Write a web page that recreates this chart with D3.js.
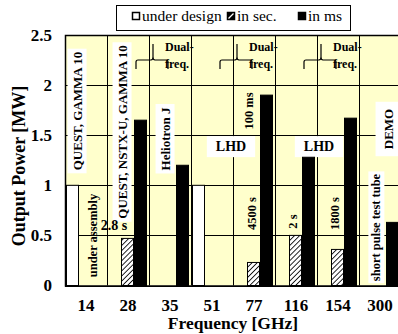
<!DOCTYPE html>
<html>
<head>
<meta charset="utf-8">
<script src="https://cdn.jsdelivr.net/npm/d3@7"></script>
<style>
  body { margin: 0; background: #fff; }
  svg text { font-family: "Liberation Serif", "Times New Roman", "DejaVu Serif", serif !important; }
</style>
</head>
<body>
<div id="chart"></div>
<script>
////////////////////////////////////////////////////////////
//////////////////////// Data //////////////////////////////
////////////////////////////////////////////////////////////

var frequencies = ["14", "28", "35", "51", "77", "116", "154", "300"];
var seriesKeys = ["design", "sec", "ms"];
var seriesNames = ["under design", "in sec.", "in ms"];
//Output power [MW] per frequency, null = no bar
var underDesign = [1.0, null, null, 1.0, null, null, null, null];
var inSec       = [null, 0.47, null, null, 0.23, 0.5, 0.36, null];
var inMs        = [null, 1.65, 1.2, null, 1.9, 1.28, 1.67, 0.63];
var yTicks = [0, 0.5, 1, 1.5, 2, 2.5];
//Frequencies that mark the dual-frequency braces (boundary on their left)
var dualFreqAt = ["35", "77", "154"];

////////////////////////////////////////////////////////////
/////////////////////// Set up /////////////////////////////
////////////////////////////////////////////////////////////

var width = 398, height = 334;
var margin = {left: 65, top: 35, bottom: 48};
var bandW = 42;
var serif = "'Liberation Serif', 'Times New Roman', 'DejaVu Serif', serif";

var svg = d3.select("#chart").append("svg")
    .attr("width", width)
    .attr("height", height)
    .attr("font-family", serif);

var defs = svg.append("defs");
var hatch = defs.append("pattern")
    .attr("id", "hatch")
    .attr("patternUnits", "userSpaceOnUse")
    .attr("width", 3.6).attr("height", 3.6)
    .attr("patternTransform", "rotate(45)");
hatch.append("rect").attr("width", 3.6).attr("height", 3.6).attr("fill", "#fff");
hatch.append("line").attr("x1", 0).attr("y1", 0).attr("x2", 0).attr("y2", 3.6)
    .attr("stroke", "#000").attr("stroke-width", 1.7);

var x = d3.scaleBand()
    .domain(frequencies)
    .range([margin.left, margin.left + bandW * frequencies.length])
    .padding(0);

var xSub = d3.scaleBand()
    .domain(seriesKeys)
    .range([1.5, 40.5]);

var y = d3.scaleLinear()
    .domain([0, 2.5])
    .range([height - margin.bottom - 0.5, margin.top]);

var fills = {design: "#fff", sec: "url(#hatch)", ms: "#000"};

//Plot background
svg.append("rect")
    .attr("x", x.range()[0]).attr("y", y(2.5))
    .attr("width", x.range()[1] - x.range()[0])
    .attr("height", y(0) - y(2.5))
    .attr("fill", "#ffffcc");

////////////////////////////////////////////////////////////
///////////////////////// Grid /////////////////////////////
////////////////////////////////////////////////////////////

var grid = svg.append("g");
grid.selectAll(".hgrid")
    .data(yTicks)
    .enter().append("line")
    .attr("x1", x.range()[0]).attr("x2", x.range()[1])
    .attr("y1", function(d) { return Math.round(y(d)) + 0.5; })
    .attr("y2", function(d) { return Math.round(y(d)) + 0.5; })
    .attr("stroke", "#000").attr("stroke-width", 1);

grid.selectAll(".vgrid")
    .data(frequencies)
    .enter().append("line")
    .attr("x1", function(d) { return x(d) + 0.5; })
    .attr("x2", function(d) { return x(d) + 0.5; })
    .attr("y1", y(2.5)).attr("y2", y(0))
    .attr("stroke", "#000").attr("stroke-width", 1);

////////////////////////////////////////////////////////////
////////////////////// Label boxes /////////////////////////
////////////////////////////////////////////////////////////

var labelLayer = svg.append("g");

//Draws a bold label, optionally rotated, with an optional white box behind it
function label(txt, cx, cy, opts) {
    var g = labelLayer.append("g")
        .attr("transform", "translate(" + cx + "," + cy + ")" + (opts.rotate ? " rotate(-90)" : ""));
    var t = g.append("text")
        .attr("text-anchor", "middle")
        .attr("dy", "0.35em")
        .style("font-family", serif)
        .style("font-weight", "bold")
        .style("font-size", (opts.size || 12) + "px")
        .text(txt);
    if (opts.box) {
        var b = t.node().getBBox();
        var pad = opts.pad || [3, 2];
        g.insert("rect", "text")
            .attr("x", b.x - pad[0]).attr("y", b.y - pad[1])
            .attr("width", b.width + 2 * pad[0]).attr("height", b.height + 2 * pad[1])
            .attr("fill", "#fff");
    }
    return g;
}

label("QUEST, GAMMA 10", x("14") + 12, y(2.5) + 76, {rotate: true, box: true, size: 13});
label("under assembly", x("14") + 28, y(0) - 50, {rotate: true, size: 12.5});
label("QUEST, NSTX-U, GAMMA 10", x("28") + 15, y(2.5) + 97, {rotate: true, box: true, size: 13});
label("2.8 s", x("28") + 7, y(0.5) - 10, {size: 14});
label("Heliotron J", x("35") + 16, y(2.5) + 104, {rotate: true, box: true, size: 13});
label("LHD", x("51") + 40, y(1.39), {box: true, size: 14, pad: [9, 3]});
label("100 ms", x("77") + 16, y(2.5) + 76, {rotate: true, size: 12.5});
label("4500 s", x("77") + 19, y(0) - 72, {rotate: true, size: 12.5});
label("LHD", x("116") + 44, y(1.39), {box: true, size: 14, pad: [9, 3]});
label("2 s", x("116") + 18, y(0) - 64, {rotate: true, size: 12.5});
label("1800 s", x("154") + 18, y(0) - 72, {rotate: true, size: 12.5});
label("DEMO", x("300") + 29, y(2.5) + 94, {rotate: true, box: true, size: 13, pad: [7, 5]});
label("short pulse test tube", x("300") + 17, y(0) - 58, {rotate: true, box: true, size: 12.5, pad: [2, 1]});

////////////////////////////////////////////////////////////
///////////////////////// Bars /////////////////////////////
////////////////////////////////////////////////////////////

var barData = [];
frequencies.forEach(function(f, i) {
    [underDesign, inSec, inMs].forEach(function(arr, j) {
        if (arr[i] !== null) barData.push({freq: f, key: seriesKeys[j], value: arr[i]});
    });
});

svg.append("g").selectAll("rect")
    .data(barData)
    .enter().append("rect")
    .attr("x", function(d) { return x(d.freq) + xSub(d.key); })
    .attr("y", function(d) { return y(d.value); })
    .attr("width", xSub.bandwidth() - 1)
    .attr("height", function(d) { return y(0) - y(d.value); })
    .attr("fill", function(d) { return fills[d.key]; })
    .attr("stroke", "#000")
    .attr("stroke-width", 1);

////////////////////////////////////////////////////////////
////////////////////// Dual-freq braces ////////////////////
////////////////////////////////////////////////////////////

var braces = svg.append("g").selectAll("g")
    .data(dualFreqAt)
    .enter().append("g")
    .attr("transform", function(d) { return "translate(" + (x(d) + 4) + ",0)"; });

braces.append("path")
    .attr("d", "M-17,69 L-17,62 Q-17,60 -15,60 L-2,60 Q0,60 0,57 L0,44 M0,57 Q0,60 2,60 L13,60 Q15,60 15,62 L15,69")
    .attr("fill", "none").attr("stroke", "#000").attr("stroke-width", 1.2);

braces.append("text")
    .attr("x", 12).attr("y", 51)
    .style("font-family", serif)
    .style("font-weight", "bold").style("font-size", "12px")
    .text("Dual-");
braces.append("text")
    .attr("x", 12).attr("y", 68)
    .style("font-family", serif)
    .style("font-weight", "bold").style("font-size", "12px")
    .text("freq.");

////////////////////////////////////////////////////////////
///////////////////////// Axes /////////////////////////////
////////////////////////////////////////////////////////////

//Plot frame (left, bottom, top)
svg.append("path")
    .attr("d", "M" + (x.range()[1]) + "," + (y(2.5) + 0.5) + " H" + (margin.left + 0.5) + " V" + (y(0) + 0.5) + " H" + x.range()[1])
    .attr("fill", "none").attr("stroke", "#000").attr("stroke-width", 1.5);

var yAxis = svg.append("g")
    .attr("transform", "translate(" + (margin.left - 13) + ",0)")
    .call(d3.axisLeft(y).tickValues(yTicks).tickSize(0).tickPadding(0)
        .tickFormat(function(d) { return d3.format("")(d); }));
yAxis.attr("font-family", serif);
yAxis.select(".domain").remove();
yAxis.selectAll("text")
    .style("font-family", serif)
    .style("font-weight", "bold").style("font-size", "17px").attr("fill", "#000");

var xAxis = svg.append("g")
    .attr("transform", "translate(0," + (y(0) + 13) + ")")
    .call(d3.axisBottom(x).tickSize(0).tickPadding(0));
xAxis.attr("font-family", serif);
xAxis.select(".domain").remove();
xAxis.selectAll("text")
    .style("font-family", serif)
    .style("font-weight", "bold").style("font-size", "17px").attr("fill", "#000");

svg.append("text")
    .attr("x", 233).attr("y", 329)
    .attr("text-anchor", "middle")
    .style("font-family", serif)
    .style("font-weight", "bold").style("font-size", "17.5px")
    .text("Frequency [GHz]");

svg.append("text")
    .attr("transform", "translate(25," + 166 + ") rotate(-90)")
    .attr("text-anchor", "middle")
    .style("font-family", serif)
    .style("font-weight", "bold").style("font-size", "18px")
    .text("Output Power [MW]");

////////////////////////////////////////////////////////////
//////////////////////// Legend ////////////////////////////
////////////////////////////////////////////////////////////

var legend = svg.append("g");
legend.append("rect")
    .attr("x", 116.5).attr("y", 5.5).attr("width", 234).attr("height", 25)
    .attr("fill", "#fff").attr("stroke", "#000").attr("stroke-width", 1);

var legendX = [132, 227, 298];
var legendItem = legend.selectAll(".legendItem")
    .data(seriesKeys)
    .enter().append("g")
    .attr("transform", function(d, i) { return "translate(" + legendX[i] + ",0)"; });

legendItem.append("rect")
    .attr("x", 0.5).attr("y", 12.5).attr("width", 7).attr("height", 7)
    .attr("fill", function(d) { return d === "design" ? "#fff" : "#000"; })
    .attr("stroke", "#000").attr("stroke-width", 1.5);
legendItem.filter(function(d) { return d === "sec"; })
    .append("line")
    .attr("x1", 1.5).attr("y1", 18.5).attr("x2", 6.5).attr("y2", 13.5)
    .attr("stroke", "#fff").attr("stroke-width", 1.3);
legendItem.append("text")
    .attr("x", 10).attr("y", 21)
    .style("font-family", serif)
    .style("font-size", "15.5px")
    .text(function(d, i) { return seriesNames[i]; });
</script>
</body>
</html>
